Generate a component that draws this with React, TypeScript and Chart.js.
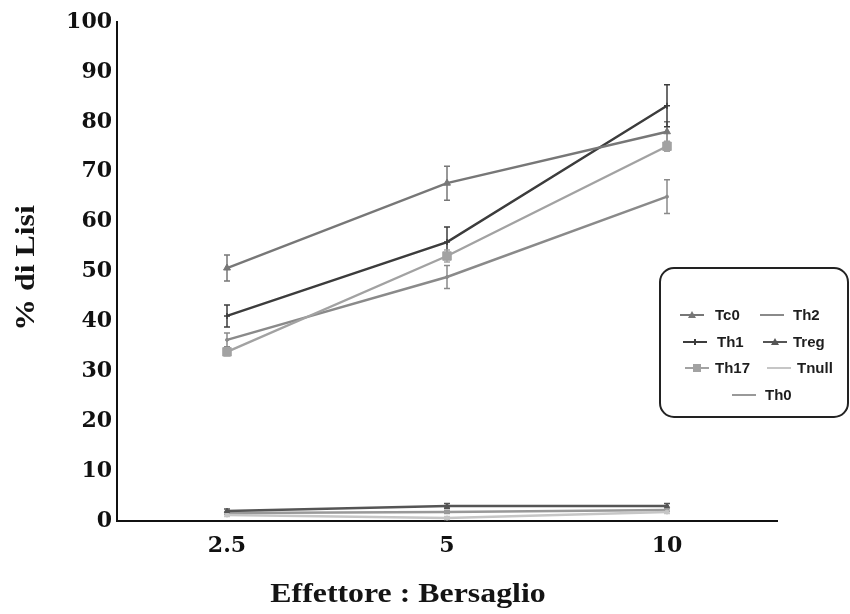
import React, { useEffect, useRef } from 'react';
import { Chart, registerables } from 'chart.js';

Chart.register(...registerables);

// Effector : target ratios
const ratios = ['2.5', '5', '10'];

// % lysis per T-cell subset, with standard error
const tc0 = [50.7, 67.7, 78.0];
const tc0Err = [2.6, 3.4, 2.0];
const th1 = [41.1, 55.9, 83.2];
const th1Err = [2.2, 3.0, 4.2];
const th17 = [33.9, 53.1, 75.1];
const th17Err = [0.8, 1.2, 1.0];
const th2 = [36.3, 48.9, 65.0];
const th2Err = [1.4, 2.3, 3.4];
const treg = [2.0, 3.0, 3.0];
const tregErr = [0.4, 0.5, 0.5];
const tnull = [1.2, 0.6, 1.8];
const tnullErr = [0.3, 0.3, 0.3];
const th0 = [1.6, 1.8, 2.2];
const th0Err = [0.3, 0.3, 0.3];

const yTicks = [0, 10, 20, 30, 40, 50, 60, 70, 80, 90, 100];

type Series = {
  label: string;
  data: number[];
  err: number[];
  color: string;
  pointStyle: any;
  radius: number;
};

const series: Series[] = [
  { label: 'Tc0', data: tc0, err: tc0Err, color: '#777777', pointStyle: 'triangle', radius: 4 },
  { label: 'Th1', data: th1, err: th1Err, color: '#3c3c3c', pointStyle: 'cross', radius: 3 },
  { label: 'Th17', data: th17, err: th17Err, color: '#a2a2a2', pointStyle: 'rect', radius: 6 },
  { label: 'Th2', data: th2, err: th2Err, color: '#8a8a8a', pointStyle: 'circle', radius: 1.5 },
  { label: 'Treg', data: treg, err: tregErr, color: '#555555', pointStyle: 'triangle', radius: 3 },
  { label: 'Tnull', data: tnull, err: tnullErr, color: '#c6c6c6', pointStyle: 'circle', radius: 2 },
  { label: 'Th0', data: th0, err: th0Err, color: '#999999', pointStyle: 'circle', radius: 1.5 },
];

// legend entries: [series label, symbol start x, row y, text x]
const legendLayout: [string, number, number, number][] = [
  ['Tc0', 680, 315, 715],
  ['Th2', 760, 315, 793],
  ['Th1', 683, 342, 717],
  ['Treg', 763, 342, 793],
  ['Th17', 685, 368, 715],
  ['Tnull', 767, 368, 797],
  ['Th0', 732, 395, 765],
];

const errorBarPlugin = {
  id: 'errorBars',
  beforeDatasetsDraw(chart: any) {
    const { ctx } = chart;
    const x = chart.scales.x;
    const y = chart.scales.y;
    series.forEach((s) => {
      s.data.forEach((v, i) => {
        const e = s.err[i];
        if (!e) return;
        const px = x.getPixelForValue(i);
        const top = y.getPixelForValue(v + e);
        const bot = y.getPixelForValue(v - e);
        ctx.save();
        ctx.strokeStyle = s.color;
        ctx.lineWidth = 1.5;
        ctx.beginPath();
        ctx.moveTo(px, top);
        ctx.lineTo(px, bot);
        ctx.moveTo(px - 3, top);
        ctx.lineTo(px + 3, top);
        ctx.moveTo(px - 3, bot);
        ctx.lineTo(px + 3, bot);
        ctx.stroke();
        ctx.restore();
      });
    });
  },
};

function stretchedText(ctx: CanvasRenderingContext2D, text: string, x: number, y: number, angle: number, sx: number) {
  ctx.save();
  ctx.translate(x, y);
  ctx.rotate(angle);
  ctx.scale(sx, 1);
  ctx.textAlign = 'center';
  ctx.textBaseline = 'middle';
  ctx.fillText(text, 0, 0);
  ctx.restore();
}

const decorPlugin = {
  id: 'decor',
  afterDraw(chart: any) {
    const { ctx } = chart;
    ctx.save();
    ctx.fillStyle = '#141414';
    ctx.font = 'bold 27px "Liberation Serif", "Times New Roman", serif';
    stretchedText(ctx, '% di Lisi', 27, 268, -Math.PI / 2, 1.18);
    stretchedText(ctx, 'Effettore : Bersaglio', 408, 595, 0, 1.18);

    // legend box
    const bx = 660, by = 268, bw = 188, bh = 149, r = 14;
    ctx.beginPath();
    ctx.moveTo(bx + r, by);
    ctx.lineTo(bx + bw - r, by);
    ctx.arcTo(bx + bw, by, bx + bw, by + r, r);
    ctx.lineTo(bx + bw, by + bh - r);
    ctx.arcTo(bx + bw, by + bh, bx + bw - r, by + bh, r);
    ctx.lineTo(bx + r, by + bh);
    ctx.arcTo(bx, by + bh, bx, by + bh - r, r);
    ctx.lineTo(bx, by + r);
    ctx.arcTo(bx, by, bx + r, by, r);
    ctx.closePath();
    ctx.fillStyle = '#ffffff';
    ctx.fill();
    ctx.strokeStyle = '#222222';
    ctx.lineWidth = 2;
    ctx.stroke();

    ctx.font = 'bold 15px "Liberation Sans", Arial, sans-serif';
    ctx.textAlign = 'left';
    ctx.textBaseline = 'middle';
    legendLayout.forEach(([label, sx, sy, tx]) => {
      const s = series.find((d) => d.label === label)!;
      ctx.strokeStyle = s.color;
      ctx.lineWidth = 2;
      ctx.beginPath();
      ctx.moveTo(sx, sy);
      ctx.lineTo(sx + 24, sy);
      ctx.stroke();
      ctx.fillStyle = s.color;
      if (s.pointStyle === 'rect') {
        ctx.fillRect(sx + 8, sy - 4, 8, 8);
      } else if (s.pointStyle === 'triangle') {
        ctx.beginPath();
        ctx.moveTo(sx + 12, sy - 4);
        ctx.lineTo(sx + 16, sy + 3);
        ctx.lineTo(sx + 8, sy + 3);
        ctx.closePath();
        ctx.fill();
      } else if (s.pointStyle === 'cross') {
        ctx.beginPath();
        ctx.moveTo(sx + 12, sy - 3);
        ctx.lineTo(sx + 12, sy + 3);
        ctx.stroke();
      }
      ctx.fillStyle = '#1e1e1e';
      ctx.fillText(label, tx, sy + 1);
    });
    ctx.restore();
  },
};

export default function App() {
  const canvasRef = useRef<HTMLCanvasElement | null>(null);

  useEffect(() => {
    document.body.style.margin = '0';
    const canvas = canvasRef.current;
    if (!canvas) return;
    const tickFont = { family: '"DejaVu Serif", serif', weight: 'bold' as const, size: 22 };
    const chart = new Chart(canvas, {
      type: 'line',
      data: {
        labels: ratios,
        datasets: series.map((s) => ({
          label: s.label,
          data: s.data,
          borderColor: s.color,
          backgroundColor: s.color,
          borderWidth: 2.4,
          pointStyle: s.pointStyle,
          pointRadius: s.radius,
          pointBorderWidth: s.pointStyle === 'cross' ? 1.5 : 1,
          tension: 0,
          fill: false,
        })),
      },
      options: {
        responsive: false,
        animation: false,
        layout: { padding: { top: 22, right: 73, left: 0, bottom: 0 } },
        plugins: {
          legend: { display: false },
          tooltip: { enabled: false },
        },
        scales: {
          x: {
            type: 'category',
            offset: true,
            grid: { display: false, drawTicks: false },
            border: { display: true, color: '#111111', width: 2 },
            ticks: { font: tickFont, color: '#111111', padding: 12 },
            afterFit: (s: any) => {
              s.height = 93;
            },
          },
          y: {
            min: 0,
            max: 100,
            afterBuildTicks: (s: any) => {
              s.ticks = yTicks.map((v) => ({ value: v }));
            },
            grid: { display: false, drawTicks: false },
            border: { display: true, color: '#111111', width: 2 },
            ticks: { font: tickFont, color: '#111111', padding: 5 },
            afterFit: (s: any) => {
              s.width = 117;
            },
          },
        },
      },
      plugins: [errorBarPlugin, decorPlugin],
    });
    return () => chart.destroy();
  }, []);

  return (
    <div style={{ width: 850, height: 614, background: '#ffffff' }}>
      <canvas ref={canvasRef} width={850} height={614} style={{ display: 'block' }} />
    </div>
  );
}
